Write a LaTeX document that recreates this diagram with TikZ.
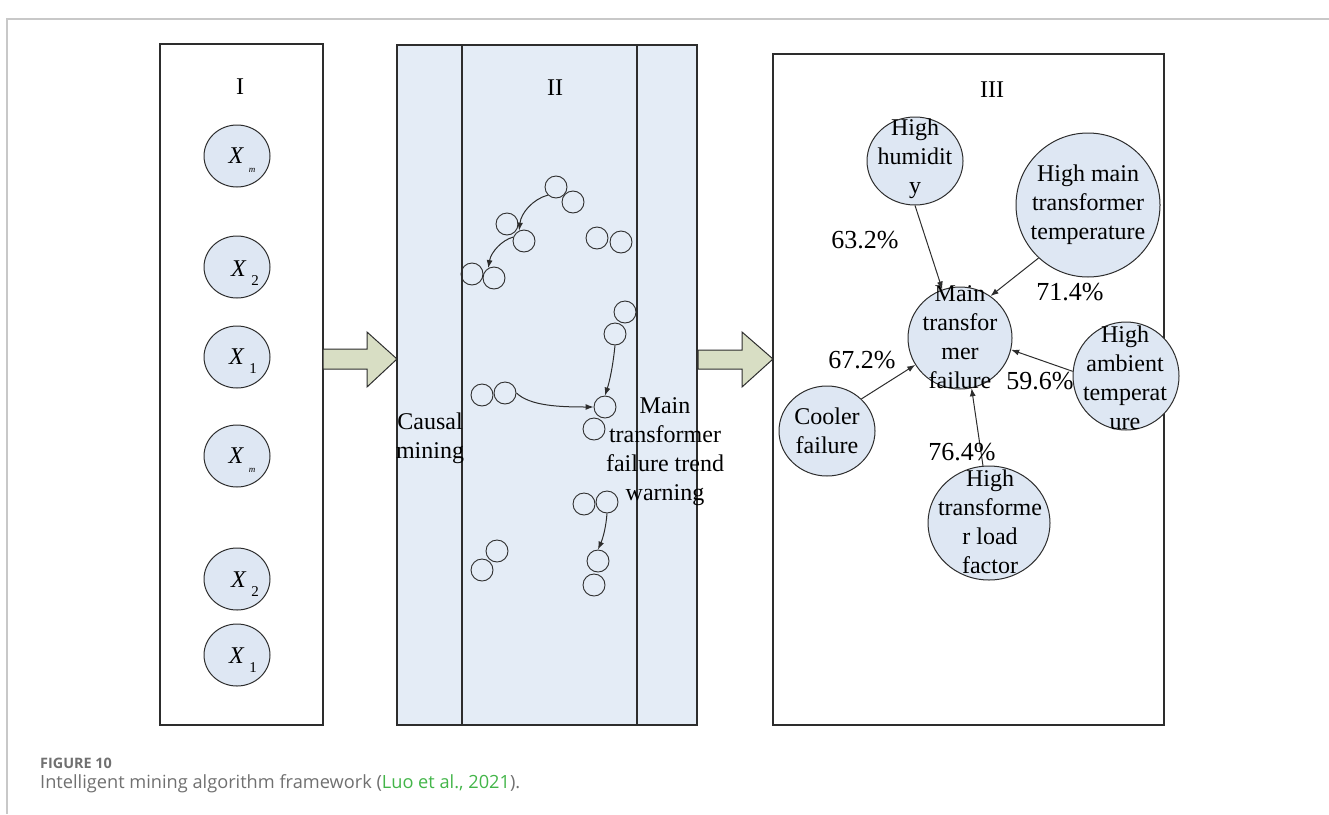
\documentclass[tikz,border=0pt]{standalone}
\usepackage{fontspec}
\setmainfont{Liberation Serif}
\newfontfamily\capfont{Open Sans}
\usetikzlibrary{shapes.geometric,arrows.meta}
\definecolor{cfill}{RGB}{222,231,243}
\definecolor{pfill}{RGB}{228,236,246}
\definecolor{afill}{RGB}{216,222,196}
\definecolor{capgray}{RGB}{112,112,112}
\definecolor{capgreen}{RGB}{67,181,73}
\definecolor{framegray}{RGB}{200,200,200}
\definecolor{ink}{RGB}{45,45,45}
\newcommand\xlab[2]{\textit{X}\hspace{5pt}\raisebox{-9pt}{\fontsize{#2}{#2}\selectfont #1}}
\begin{document}
\begin{tikzpicture}[x=1pt,y=-1pt,
  panel/.style={draw=ink,line width=1.3pt},
  bigc/.style={ellipse,draw=ink,fill=cfill,line width=1pt,inner sep=0pt},
  smallc/.style={circle,draw=ink,line width=0.9pt,minimum size=22pt,inner sep=0pt},
  lbl/.style={font=\fontsize{24}{29}\selectfont,align=center,inner sep=0pt,text=black},
  pct/.style={font=\fontsize{26}{30}\selectfont,inner sep=0pt},
  edge/.style={draw=ink,line width=1pt,-{Latex[length=8pt,width=6pt]}},
  blockarrow/.style={draw=ink,line width=1pt,fill=afill,line join=miter}]
\useasboundingbox (0,0) rectangle (1329,814);
% page frame
\draw[framegray,line width=1.5pt] (1329,19) -- (7,19) -- (7,814);

% ---------- Panel I ----------
\draw[panel] (160,44) rectangle (323,725);
\node[lbl] (tI) at (240,87) {I};
\node[bigc,minimum width=66pt,minimum height=62pt] (x1) at (237,156) {};
\node[bigc,minimum width=66pt,minimum height=62pt] (x2) at (237,267) {};
\node[bigc,minimum width=66pt,minimum height=62pt] (x3) at (237,357) {};
\node[bigc,minimum width=66pt,minimum height=62pt] (x4) at (237,456) {};
\node[bigc,minimum width=66pt,minimum height=62pt] (x5) at (237,579) {};
\node[bigc,minimum width=66pt,minimum height=62pt] (x6) at (237,655) {};
\node[lbl] (lx1) at (242,160) {\xlab{\textit{m}}{9}};
\node[lbl] (lx2) at (245,273) {\xlab{2}{15}};
\node[lbl] (lx3) at (243,361) {\xlab{1}{15}};
\node[lbl] (lx4) at (242,460) {\xlab{\textit{m}}{9}};
\node[lbl] (lx5) at (245,584) {\xlab{2}{15}};
\node[lbl] (lx6) at (243,660) {\xlab{1}{15}};

% ---------- Panel II ----------
\draw[panel,fill=pfill] (397,45) rectangle (697,725);
\draw[panel] (462,45) -- (462,725);
\draw[panel] (637,45) -- (637,725);
\node[lbl] (tII) at (555,88) {II};
\node[lbl] (causal) at (430,438) {Causal\\mining};
\node[lbl] (warn) at (665,452) {Main\\transformer\\failure trend\\warning};

\node[smallc] (c1) at (556,187) {};
\node[smallc] (c2) at (573,202) {};
\node[smallc] (c3) at (507,224) {};
\node[smallc] (c4) at (524,241) {};
\node[smallc] (c5) at (597,238) {};
\node[smallc] (c6) at (621,242) {};
\node[smallc] (c7) at (472,274) {};
\node[smallc] (c8) at (494,278) {};
\node[smallc] (c9) at (625,312) {};
\node[smallc] (c10) at (615,334) {};
\node[smallc] (c11) at (482,395) {};
\node[smallc] (c12) at (505,393) {};
\node[smallc] (c13) at (605,407) {};
\node[smallc] (c14) at (594,429) {};
\node[smallc] (c15) at (584,504) {};
\node[smallc] (c16) at (607,502) {};
\node[smallc] (c17) at (497,551) {};
\node[smallc] (c18) at (482,570) {};
\node[smallc] (c19) at (598,561) {};
\node[smallc] (c20) at (594,585) {};

\draw[edge] (c1.225) .. controls (533,199) and (521,213) .. (c4.115);
\draw[edge] (c4.160) .. controls (502,240) and (491,252) .. (c8.120);
\draw[edge] (c10.south) .. controls (613,365) and (610,380) .. (c13.north);
\draw[edge] (c12.east) .. controls (530,406) and (560,407) .. (c13.west);
\draw[edge] (c16.south) .. controls (606,527) and (603,538) .. (c19.north);

% ---------- Panel III ----------
\draw[panel] (773,54) rectangle (1164,725);
\node[lbl] (tIII) at (992,90) {III};
\node[bigc,minimum width=96pt,minimum height=88pt] (hum) at (915,161) {};
\node[bigc,minimum width=144pt,minimum height=144pt] (hmt) at (1088,205) {};
\node[bigc,minimum width=104pt,minimum height=102pt] (mtf) at (960,338) {};
\node[bigc,minimum width=106pt,minimum height=108pt] (amb) at (1126,376) {};
\node[bigc,minimum width=96pt,minimum height=90pt] (cool) at (827,431) {};
\node[bigc,minimum width=122pt,minimum height=114pt] (load) at (989,523) {};

\node[lbl] (lhum) at (915,159) {High\\humidit\\y};
\node[lbl] (lhmt) at (1088,205) {High main\\transformer\\temperature};
\node[lbl] (lmtf) at (960,337) {Main\\transfor\\mer\\failure};
\node[lbl] (lamb) at (1125,378) {High\\ambient\\temperat\\ure};
\node[lbl] (lcool) at (827,431) {Cooler\\failure};
\node[lbl] (lload) at (990,522) {High\\transforme\\r load\\factor};

\draw[edge] (hum.south) -- (mtf.110);
\draw[edge] (hmt.227) -- (mtf.54);
\draw[edge] (cool.43) -- (mtf.211);
\draw[edge] (amb.175) -- (mtf.347);
\draw[edge] (load.96) -- (mtf.283);

\node[pct] (p1) at (865,240) {63.2\%};
\node[pct] (p2) at (1070,292) {71.4\%};
\node[pct] (p3) at (862,360) {67.2\%};
\node[pct] (p4) at (1040,381) {59.6\%};
\node[pct] (p5) at (962,452) {76.4\%};

% ---------- block arrows ----------
\draw[blockarrow] (323,349) -- (367,349) -- (367,332) -- (397,359) -- (367,387) -- (367,369) -- (323,369) -- cycle;
\draw[blockarrow] (698,350) -- (742,350) -- (742,332) -- (773,359) -- (742,387) -- (742,369) -- (698,369) -- cycle;

% ---------- caption ----------
\node[anchor=west,inner sep=0pt,text=capgray,font=\capfont\bfseries\fontsize{14.4}{16}\selectfont] (fig) at (40,763) {FIGURE 10};
\node[anchor=base west,inner sep=0pt,text=capgray,font=\capfont\fontsize{18.2}{22}\selectfont] (cap) at (40,788) {Intelligent mining algorithm framework (\textcolor{capgreen}{Luo et al., 2021}).};
\end{tikzpicture}
\end{document}
